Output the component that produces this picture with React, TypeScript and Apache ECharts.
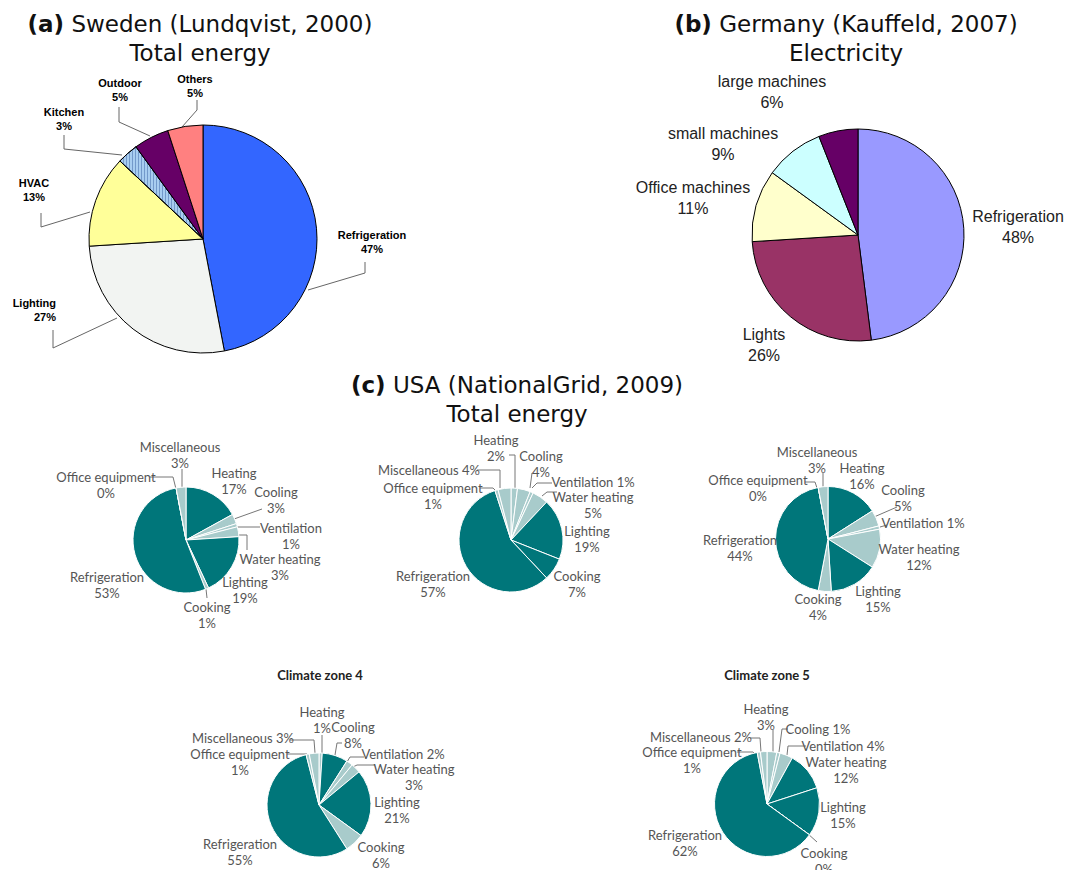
import React, { useEffect, useRef } from 'react';
import * as echarts from 'echarts';

// ---------------- DATA ----------------
const swedenNames = ['Refrigeration', 'Lighting', 'HVAC', 'Kitchen', 'Outdoor', 'Others'];
const swedenValues = [47, 27, 13, 3, 5, 5];

const germanyNames = ['Refrigeration', 'Lights', 'Office machines', 'small machines', 'large machines'];
const germanyValues = [48, 26, 11, 9, 6];

const usaCategories = ['Heating', 'Cooling', 'Ventilation', 'Water heating', 'Lighting', 'Cooking', 'Refrigeration', 'Office equipment', 'Miscellaneous'];
const usaValuesA = [17, 3, 1, 3, 19, 1, 53, 0, 3];
const usaValuesB = [2, 4, 1, 5, 19, 7, 57, 1, 4];
const usaValuesC = [16, 5, 1, 12, 15, 4, 44, 0, 3];
const zone4Values = [1, 8, 2, 3, 21, 6, 55, 1, 3];
const zone5Values = [3, 1, 4, 12, 15, 0, 62, 1, 2];

const zoneTitles = ['Climate zone 4', 'Climate zone 5'];

// ---------------- STYLES ----------------
const DARK = '#00767a';
const LIGHT = '#a8cbcb';
const shade = (s: string) => s.split('').map((c) => (c === 'D' ? DARK : LIGHT));
const shadeA = shade('DLLLDLDLL');
const shadeB = shade('LLLLDDDLL');
const shadeC = shade('DLLLDLDLL');
const shade4 = shade('LDLLDLDLL');
const shade5 = shade('LLLDDLDLL');

const swedenColors: any[] = ['#3366ff', '#f2f4f2', '#ffff99', '#a8cdf0', '#660066', '#ff8080'];
const germanyColors = ['#9999ff', '#993366', '#ffffcc', '#ccffff', '#660066'];

const TITLE_FONT = "'DejaVu Sans', 'Open Sans', sans-serif";
const ARIAL = "'Liberation Sans', Arial, sans-serif";
const NARROW = "Lato, 'Liberation Sans', sans-serif";

type LabelSpec = { x: number; y: number; line?: number[][]; inline?: boolean; align?: string };

const swedenLabels: LabelSpec[] = [
  { x: 372, y: 242, line: [[308, 290], [365, 273], [365, 262]] },
  { x: 56, y: 310, align: 'right', line: [[117, 318], [53, 348], [53, 330]] },
  { x: 34, y: 190, line: [[90, 212], [41, 227], [41, 213]] },
  { x: 64, y: 119, line: [[122, 155], [64, 149], [64, 135]] },
  { x: 120, y: 90, line: [[150, 136], [119, 122], [119, 107]] },
  { x: 195, y: 86, line: [[182, 127], [197, 110], [197, 100]] },
];

const germanyLabels: LabelSpec[] = [
  { x: 1018, y: 227 },
  { x: 764, y: 345 },
  { x: 693, y: 198 },
  { x: 723, y: 144 },
  { x: 772, y: 92 },
];

const usaLabelsA: LabelSpec[] = [
  { x: 234, y: 481 },
  { x: 276, y: 500, line: [[234, 519], [262, 509]] },
  { x: 291, y: 536, line: [[237, 527], [260, 527]] },
  { x: 280, y: 567, line: [[238, 535], [247, 535], [247, 550]] },
  { x: 245, y: 590 },
  { x: 207, y: 615, line: [[206, 589], [207, 598]] },
  { x: 107, y: 585 },
  { x: 106, y: 485, line: [[150, 477], [173, 477], [176, 489]] },
  { x: 180, y: 455, line: [[182, 469], [182, 487]] },
];

const usaLabelsB: LabelSpec[] = [
  { x: 496, y: 448, line: [[509, 455], [515, 455], [515, 488]] },
  { x: 541, y: 464, line: [[530, 488], [532, 473]] },
  { x: 593, y: 482, inline: true, line: [[532, 488], [537, 483], [552, 483]] },
  { x: 593, y: 505, line: [[542, 496], [547, 492], [557, 492]] },
  { x: 587, y: 539 },
  { x: 577, y: 584 },
  { x: 433, y: 584 },
  { x: 433, y: 496, line: [[480, 488], [493, 488], [496, 491]] },
  { x: 429, y: 470, inline: true, line: [[477, 470], [500, 470], [500, 488]] },
];

const usaLabelsC: LabelSpec[] = [
  { x: 862, y: 476 },
  { x: 903, y: 498, line: [[874, 517], [897, 507]] },
  { x: 923, y: 523, inline: true, line: [[880, 527], [887, 525]] },
  { x: 919, y: 557 },
  { x: 878, y: 599 },
  { x: 818, y: 607 },
  { x: 740, y: 548 },
  { x: 758, y: 488, line: [[805, 482], [815, 482], [817, 488]] },
  { x: 817, y: 460, line: [[823, 473], [823, 487]] },
];

const zone4Labels: LabelSpec[] = [
  { x: 322, y: 720, line: [[322, 735], [322, 753]] },
  { x: 353, y: 735, line: [[342, 743], [337, 743], [335, 755]] },
  { x: 403, y: 754, inline: true, line: [[347, 762], [350, 757], [364, 757]] },
  { x: 414, y: 777, line: [[353, 767], [357, 765], [375, 765]] },
  { x: 397, y: 810 },
  { x: 381, y: 855 },
  { x: 240, y: 852 },
  { x: 240, y: 762, line: [[287, 754], [307, 754], [308, 757]] },
  { x: 243, y: 738, inline: true, line: [[290, 740], [314, 740], [315, 753]] },
];

const zone5Labels: LabelSpec[] = [
  { x: 766, y: 717, line: [[773, 730], [773, 752]] },
  { x: 818, y: 729, inline: true, line: [[788, 729], [782, 729], [779, 752]] },
  { x: 843, y: 746, inline: true, line: [[806, 746], [788, 746], [787, 755]] },
  { x: 846, y: 770 },
  { x: 843, y: 815 },
  { x: 824, y: 861, line: [[807, 833], [817, 842]] },
  { x: 685, y: 843 },
  { x: 692, y: 760, line: [[737, 752], [753, 752], [756, 755]] },
  { x: 701, y: 737, inline: true, line: [[750, 738], [760, 738], [761, 752]] },
];

function pieSeries(
  id: string,
  names: string[],
  values: number[],
  colors: any[],
  center: number[],
  radius: number,
  labels: LabelSpec[],
  text: any,
  borderColor: string,
  lineColor: string
) {
  return {
    type: 'pie',
    id,
    center,
    radius,
    startAngle: 90,
    clockwise: true,
    avoidLabelOverlap: false,
    silent: true,
    emphasis: { disabled: true },
    itemStyle: { borderColor, borderWidth: 1 },
    label: {
      show: true,
      position: 'outside',
      ...text,
      formatter: (p: any) =>
        labels[p.dataIndex].inline ? `${p.name} ${p.value}%` : `${p.name}\n${p.value}%`,
    },
    labelLine: { show: true, smooth: false, lineStyle: { color: lineColor, width: 1 } },
    labelLayout: (p: any) => {
      const s = labels[p.dataIndex];
      const r: any = { x: s.x, y: s.y, align: s.align || 'center', verticalAlign: 'middle' };
      if (s.line) r.labelLinePoints = s.line;
      return r;
    },
    data: names.map((n, i) => {
      const c = colors[i];
      const itemStyle: any = typeof c === 'string' ? { color: c } : { ...c };
      return {
        name: n,
        value: values[i],
        itemStyle,
        labelLine: { show: !!labels[i].line },
      };
    }),
  };
}

export default function App() {
  const ref = useRef<HTMLDivElement>(null);
  useEffect(() => {
    if (!ref.current) return;
    const chart = echarts.init(ref.current, undefined, { renderer: 'svg' });

    const swedenText = { fontFamily: ARIAL, fontSize: 11, fontWeight: 'bold', color: '#000', lineHeight: 14 };
    const germanyText = { fontFamily: ARIAL, fontSize: 16, color: '#222', lineHeight: 21 };
    const usaText = { fontFamily: NARROW, fontSize: 13, color: '#555', lineHeight: 16 };

    const kitchen = {
      color: '#a8cdf0',
      decal: {
        symbol: 'rect',
        symbolSize: 1,
        color: 'rgba(70,110,170,0.55)',
        dashArrayX: [1, 2],
        dashArrayY: [10, 0],
        rotation: 0,
      },
    };
    const swColors = swedenColors.slice();
    swColors[3] = kitchen;

    const titleStyle = (label: string, rest: string, line2: string) => ({
      text: `{b|${label}} ${rest}\n${line2}`,
      fontFamily: TITLE_FONT,
      fontSize: 23,
      lineHeight: 29,
      fill: '#111',
      align: 'center',
      verticalAlign: 'middle',
      rich: {
        b: { fontFamily: TITLE_FONT, fontSize: 23, fontWeight: 'bold', lineHeight: 29, fill: '#111' },
      },
    });

    const zoneStyle = (t: string) => ({
      text: t, fontFamily: NARROW, fontSize: 13, fontWeight: 'bold', fill: '#222', align: 'center', verticalAlign: 'middle',
    });

    const option: any = {
      animation: false,
      backgroundColor: '#ffffff',
      graphic: [
        { type: 'text', x: 200, y: 38, style: titleStyle('(a)', 'Sweden (Lundqvist, 2000)', 'Total energy') },
        { type: 'text', x: 846, y: 38, style: titleStyle('(b)', 'Germany (Kauffeld, 2007)', 'Electricity') },
        { type: 'text', x: 517, y: 399, style: titleStyle('(c)', 'USA (NationalGrid, 2009)', 'Total energy') },
        { type: 'text', x: 320, y: 675, style: zoneStyle(zoneTitles[0]) },
        { type: 'text', x: 767, y: 675, style: zoneStyle(zoneTitles[1]) },
      ],
      series: [
        pieSeries('sweden', swedenNames, swedenValues, swColors, [203, 239], 114, swedenLabels, swedenText, '#000', '#666'),
        pieSeries('germany', germanyNames, germanyValues, germanyColors, [858, 235], 106, germanyLabels, germanyText, '#000', '#666'),
        pieSeries('usaA', usaCategories, usaValuesA, shadeA, [186, 540], 53, usaLabelsA, usaText, '#fff', '#777'),
        pieSeries('usaB', usaCategories, usaValuesB, shadeB, [511, 540], 52, usaLabelsB, usaText, '#fff', '#777'),
        pieSeries('usaC', usaCategories, usaValuesC, shadeC, [828, 539], 52.5, usaLabelsC, usaText, '#fff', '#777'),
        pieSeries('zone4', usaCategories, zone4Values, shade4, [319, 805], 52, zone4Labels, usaText, '#fff', '#777'),
        pieSeries('zone5', usaCategories, zone5Values, shade5, [767, 804], 52.5, zone5Labels, usaText, '#fff', '#777'),
      ],
    };
    chart.setOption(option);
    return () => chart.dispose();
  }, []);

  return (
    <div
      ref={ref}
      style={{ position: 'fixed', left: 0, top: 0, width: 1069, height: 870, background: '#fff' }}
    />
  );
}
